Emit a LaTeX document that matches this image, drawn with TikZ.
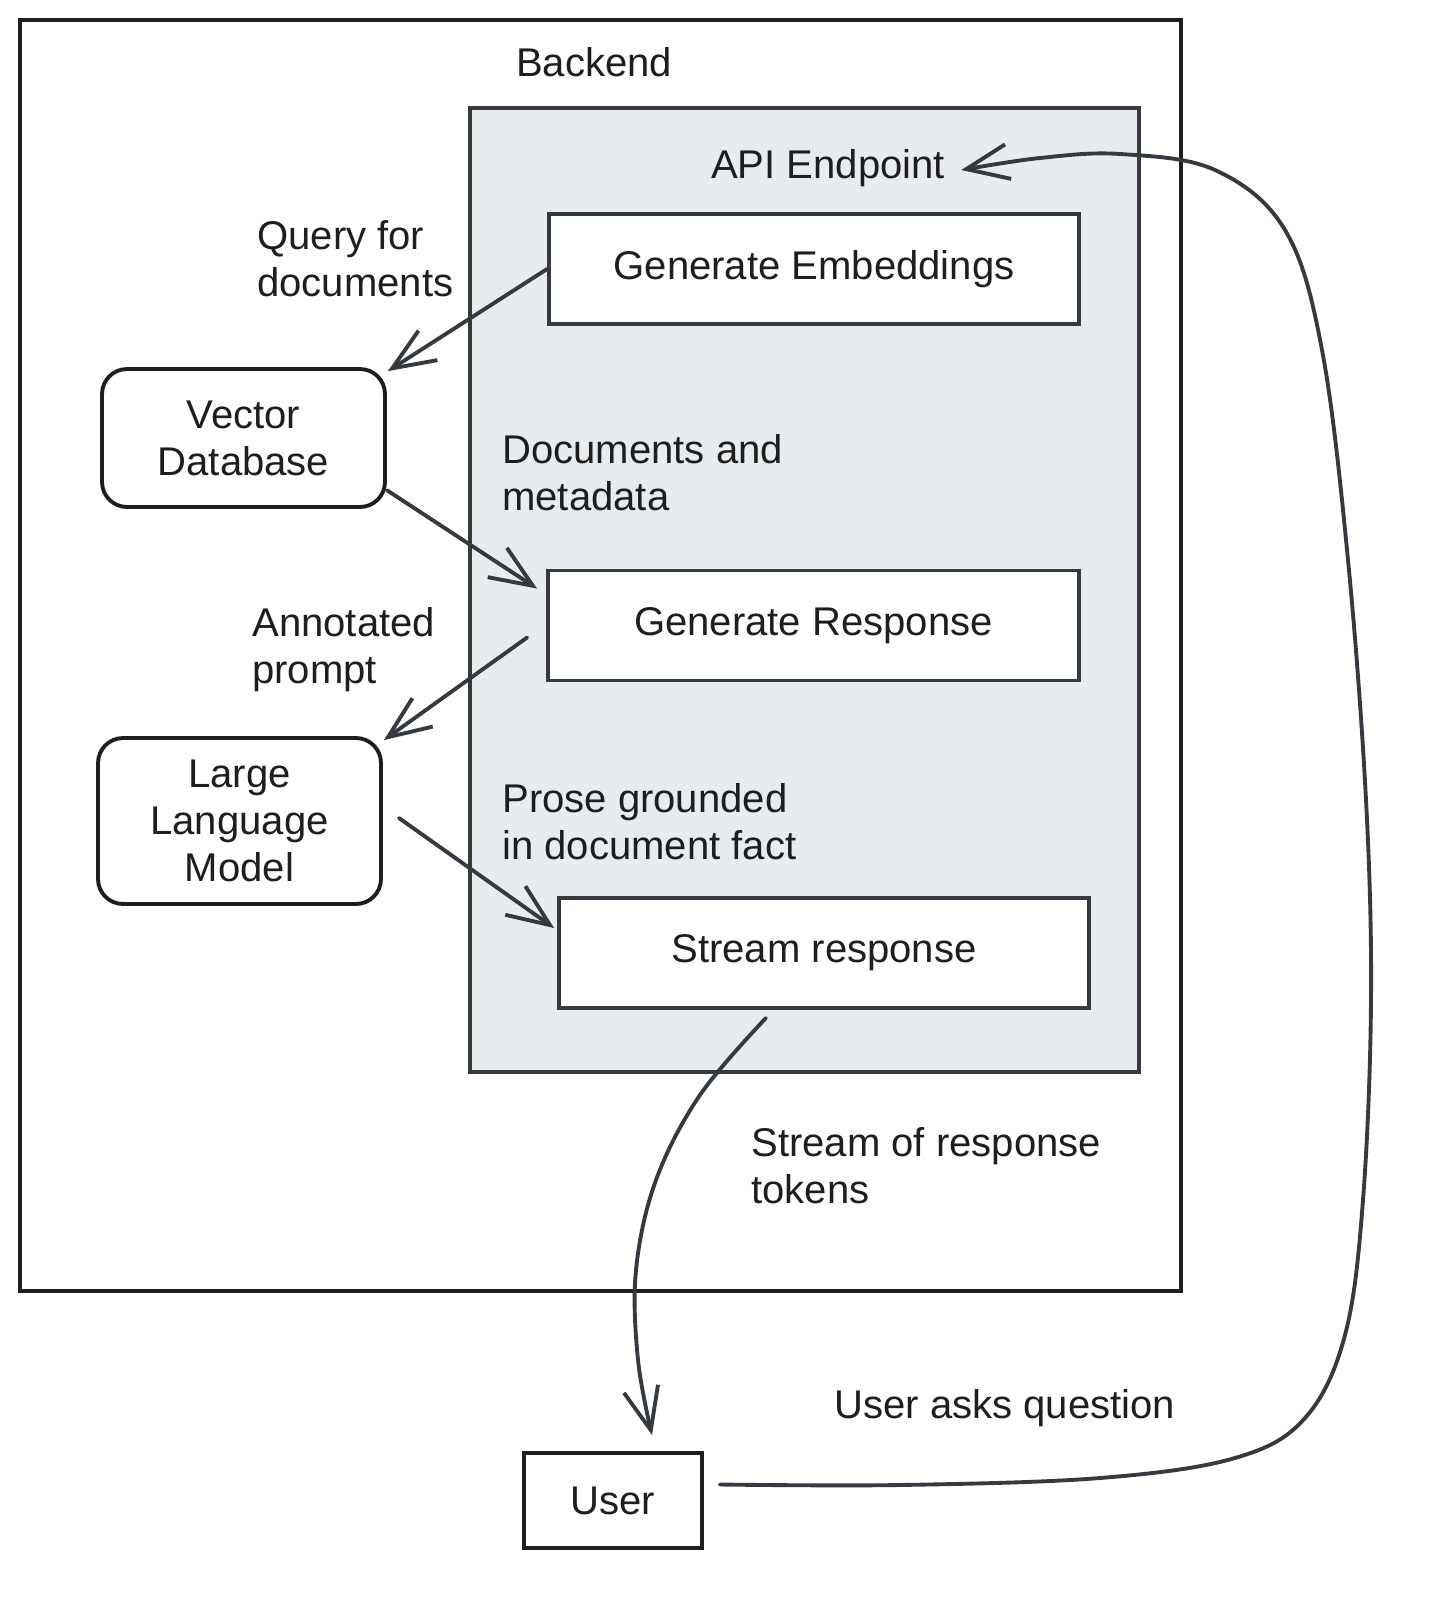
\documentclass[tikz,border=0pt]{standalone}
\usepackage{fontspec}
\setmainfont{Liberation Sans}
\usetikzlibrary{calc,arrows.meta}
\definecolor{ink}{HTML}{343A40}
\definecolor{inkdark}{HTML}{1E1E1E}
\definecolor{panel}{HTML}{E9ECEF}
\newcommand{\hand}{\fontsize{22.8}{26.8}\selectfont}
\tikzset{
	box/.style={draw=ink, fill=white, line width=2.2pt, minimum width=10.6cm, minimum height=2.2cm, inner sep=0pt, text=inkdark, font=\hand},
	store/.style={box, draw=inkdark, rounded corners=0.5cm, minimum width=5.66cm, align=center},
	lbl/.style={anchor=west, align=left, inner sep=0pt, text=inkdark, font=\hand},
	conn/.style={draw=ink, line width=2.2pt, line cap=round, line join=round, -{Straight Barb[length=0.85cm,width=0.7cm]}}
}

\begin{document}
\begin{tikzpicture}[x=0.02cm, y=-0.02cm]
				\useasboundingbox (0,0) rectangle (1431,1599);
				
				% containers
				\draw[draw=inkdark, line width=2.2pt] (20,20) rectangle (1181,1291);
				\node[lbl, anchor=center] (backend) at (594,62) {Backend};
				\draw[draw=ink, fill=panel, line width=2.2pt] (470,108) rectangle (1139,1072);
				\node[lbl, anchor=center] (apilbl) at (828,168) {API Endpoint};
				
				% steps of the endpoint
				\node[box] (emb) at (814,269) {Generate Embeddings};
				\node[box, minimum width=10.62cm] (resp) at (813.5,625.5) {Generate Response};
				\node[box] (stream) at (824,953) {Stream response};
				
				% services
				\node[store, minimum height=2.76cm] (vdb) at (243.5,438) {Vector\\Database};
				\node[store, minimum height=3.32cm] (llm) at (239.5,821) {Large\\Language\\Model};
				\node[box, draw=inkdark, minimum width=3.56cm, minimum height=1.9cm] (user) at (613,1500.5) {User};
				
				% labels
				\node[lbl] (qlbl) at (257,259) {Query for\\documents};
				\node[lbl] (dlbl) at (502,473) {Documents and\\metadata};
				\node[lbl] (albl) at (252,650) {Annotated\\prompt};
				\node[lbl] (plbl) at (502,822) {Prose grounded\\in document fact};
				\node[lbl] (slbl) at (751,1166) {Stream of response\\tokens};
				\node[lbl] (ulbl) at (834,1408) {User asks question};
				
				% arrows
				\draw[conn] (emb.west) -- ($(vdb.north east)+(1,4)$);
				\draw[conn] (vdb.-20) -- ($(resp.north west)+(-9,20)$);
				\draw[conn] ($(resp.west)+(-19,12)$) -- ($(llm.north east)+(1,4)$);
				\draw[conn] ($(llm.east)+(16,-3)$) -- ($(stream.west)+(-3,-25)$);
				
				\coordinate (sstart) at ($(stream.south)+(-58,8)$);
				\coordinate (send) at ($(user.north)+(39,-16)$);
				\draw[conn] plot[smooth, tension=0.6] coordinates {(sstart) (700,1095) (656,1180) (636,1270) (638,1360) (send)};
				
				\coordinate (ustart) at ($(user.east)+(16,-16)$);
				\coordinate (uend) at ($(apilbl.east)+(16,2)$);
				\draw[conn] plot[smooth, tension=0.6] coordinates {(ustart) (900,1485) (1100,1478) (1235,1458) (1305,1418) (1345,1335) (1363,1200) (1371,1000) (1366,800) (1348,560) (1322,350) (1285,230) (1215,170) (1120,154) (1040,158) (uend)};
			\end{tikzpicture}
\end{document}
